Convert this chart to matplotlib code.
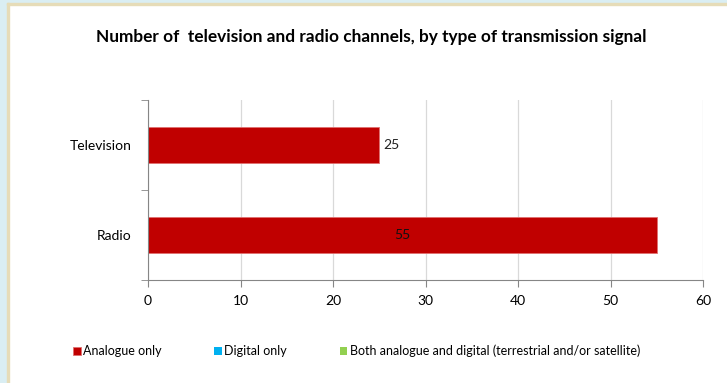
import matplotlib.pyplot as plt
from matplotlib.patches import Rectangle

# Data
categories = ["Radio", "Television"]
analogue_only = [55, 25]
digital_only = [0, 0]
both_signals = [0, 0]
series_names = ["Analogue only", "Digital only",
                "Both analogue and digital (terrestrial and/or satellite)"]
series_colors = ["#c00000", "#00b0f0", "#92d050"]
x_ticks = [0, 10, 20, 30, 40, 50, 60]

plt.rcParams['font.family'] = ['Lato', 'DejaVu Sans']

fig = plt.figure(figsize=(7.27, 3.83), dpi=100)

# frame strips of the original screenshot
fig.patches.append(Rectangle((0, 0), 7 / 727, 1, transform=fig.transFigure,
                             color="#daeef3", zorder=0))
fig.patches.append(Rectangle((0, 1 - 3 / 383), 1, 3 / 383, transform=fig.transFigure,
                             color="#daeef3", zorder=0))
fig.patches.append(Rectangle((7 / 727, 0), 2 / 727, 1 - 3 / 383, transform=fig.transFigure,
                             color="#e6dcb8", zorder=0))
fig.patches.append(Rectangle((7 / 727, 1 - 5 / 383), 1, 2 / 383, transform=fig.transFigure,
                             color="#e6dcb8", zorder=0))

ax = fig.add_axes([148 / 727, 1 - 280 / 383, 555 / 727, 180 / 383])

ypos = list(range(len(categories)))
left = [0] * len(categories)
for vals, name, col in zip([analogue_only, digital_only, both_signals], series_names, series_colors):
    ax.barh(ypos, vals, left=left, height=0.4, color=col, label=name,
            edgecolor="#e07070", linewidth=0.6 if name == series_names[0] else 0)
    left = [l + v for l, v in zip(left, vals)]

# data labels: Television outside, Radio centred
ax.text(analogue_only[1] + 0.4, ypos[1], str(analogue_only[1]), va="center", ha="left",
        fontsize=10, color="#222222")
ax.text(analogue_only[0] / 2, ypos[0], str(analogue_only[0]), va="center", ha="center",
        fontsize=10, color="#111111")

ax.set_xlim(0, 60)
ax.set_ylim(-0.5, 1.5)
ax.set_xticks(x_ticks)
ax.set_yticks(ypos)
ax.set_yticklabels(categories)
ax.set_yticks([-0.5, 0.5, 1.5], minor=True)
ax.tick_params(axis="y", which="major", length=0, pad=12, labelsize=10)
ax.tick_params(axis="y", which="minor", length=5, color="#868686", direction="out")
ax.tick_params(axis="x", length=5, color="#868686", pad=6, labelsize=10)
ax.grid(axis="x", color="#d9d9d9", linewidth=0.9)
ax.set_axisbelow(True)
for s in ["top", "right"]:
    ax.spines[s].set_visible(False)
for s in ["left", "bottom"]:
    ax.spines[s].set_color("#868686")

fig.text(371 / 727, 1 - 37 / 383,
         "Number of  television and radio channels, by type of transmission signal",
         ha="center", va="center", fontsize=12.4, fontweight="bold")

fig.legend(loc="center left", bbox_to_anchor=(62 / 727, 1 - 351 / 383), ncol=3,
           frameon=False, fontsize=9, handlelength=0.6, handleheight=0.6,
           handletextpad=0.2, columnspacing=4.2)

fig.savefig("out.png", dpi=100)
